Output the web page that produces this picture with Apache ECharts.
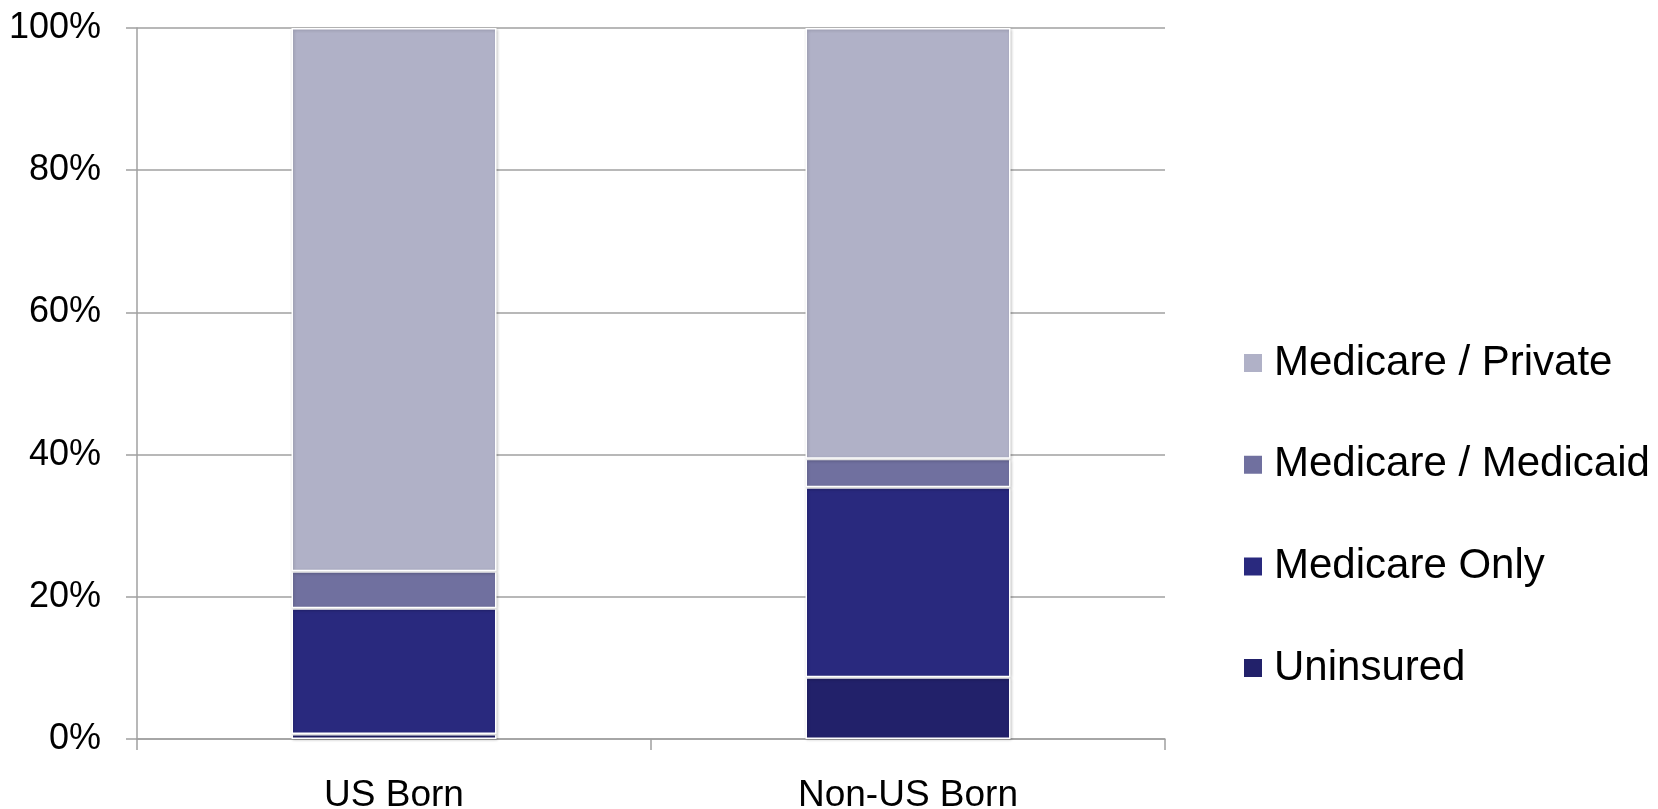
<!DOCTYPE html>
<html><head><meta charset="utf-8">
<script src="https://cdn.jsdelivr.net/npm/echarts@6/dist/echarts.min.js"></script>
<style>html,body{margin:0;padding:0;background:#fff}#c{width:1658px;height:809px}</style>
</head><body><div id="c"></div>
<script>
const categories = ['US Born', 'Non-US Born'];
const uninsured = [0.7, 8.7];
const medicareOnly = [17.7, 26.7];
const medicareMedicaid = [5.2, 4.0];
const medicarePrivate = [76.4, 60.6];
const yTicks = [0, 20, 40, 60, 80, 100];

const FONT = '"Liberation Sans", Arial, sans-serif';
const seriesDefs = [
  {name: 'Uninsured', data: uninsured, color: '#22216A'},
  {name: 'Medicare Only', data: medicareOnly, color: '#29297E'},
  {name: 'Medicare / Medicaid', data: medicareMedicaid, color: '#70709F'},
  {name: 'Medicare / Private', data: medicarePrivate, color: '#B0B1C7'}
];
const chart = echarts.init(document.getElementById('c'), null, {renderer: 'canvas'});
chart.setOption({
  animation: false,
  backgroundColor: '#fff',
  grid: {left: 137, right: 493, top: 28, bottom: 70, containLabel: false, outerBoundsMode: 'none'},
  legend: {
    orient: 'vertical', left: 1242, top: 341, padding: 0,
    data: seriesDefs.map(s => s.name).reverse(),
    icon: 'rect', itemWidth: 20, itemHeight: 20, itemGap: 57.7,
    textStyle: {fontFamily: FONT, fontSize: 42, color: '#000', lineHeight: 44, padding: [0,0,0,6]}
  },
  xAxis: {
    type: 'category', data: categories,
    axisLine: {lineStyle: {color: '#A0A0A0', width: 1.5}},
    axisTick: {show: true, length: 11, lineStyle: {color: '#A0A0A0', width: 1.5}},
    axisLabel: {fontFamily: FONT, fontSize: 37, color: '#000', margin: 38}
  },
  yAxis: {
    type: 'value', min: yTicks[0], max: yTicks[yTicks.length-1], interval: 20,
    axisLine: {show: true, lineStyle: {color: '#A0A0A0', width: 1.5}},
    axisTick: {show: true, length: 11, lineStyle: {color: '#A0A0A0', width: 1.5}},
    splitLine: {lineStyle: {color: '#A0A0A0', width: 1.5}},
    axisLabel: {fontFamily: FONT, fontSize: 36, color: '#000', margin: 36, formatter: '{value}%'}
  },
  series: seriesDefs.map(s => ({
    name: s.name, type: 'bar', stack: 'all', data: s.data, barWidth: 205,
    itemStyle: {color: s.color, borderColor: '#fff', borderWidth: 1.5,
      shadowColor: 'rgba(0,0,0,0.2)', shadowBlur: 3, shadowOffsetX: 1, shadowOffsetY: 1}
  }))
});
</script></body></html>
